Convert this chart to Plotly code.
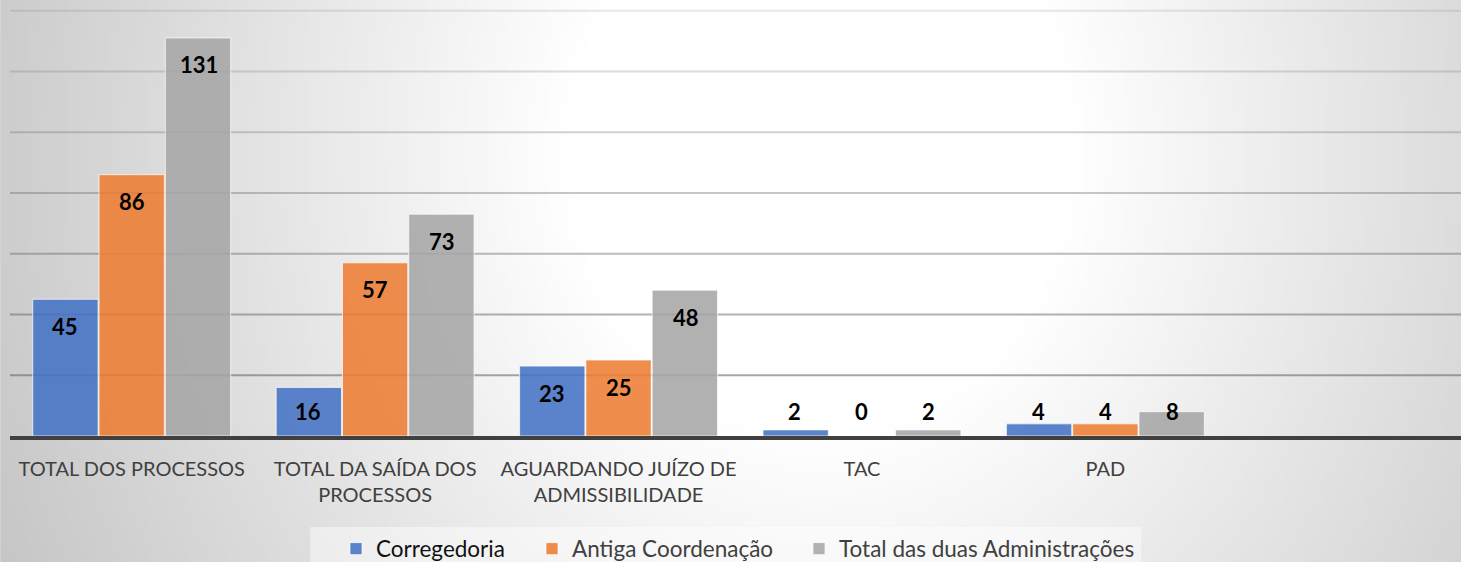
import base64, struct, zlib, math
import plotly.graph_objects as go

# ---------------- data ----------------
categories = ["TOTAL DOS PROCESSOS", "TOTAL DA SAÍDA DOS<br>PROCESSOS",
              "AGUARDANDO JUÍZO DE<br>ADMISSIBILIDADE", "TAC", "PAD"]
corregedoria = [45, 16, 23, 2, 4]
antiga_coordenacao = [86, 57, 25, 0, 4]
total_duas = [131, 73, 48, 2, 8]
series_names = ["Corregedoria", "Antiga Coordenação", "Total das duas Administrações"]
grid_values = [20, 40, 60, 80, 100, 120, 140]

# ---------------- geometry / style ----------------
W, H = 1461, 562
ML, MT, MB = 9.5, 0, 126
PW, PH = W - ML, H - MT - MB
Y_MAX = 143.5
PX_PER_UNIT = PH / Y_MAX
colors = ["rgba(68,114,196,0.87)", "rgba(237,125,49,0.87)", "rgba(165,165,165,0.87)"]
FONT = "Lato"

# background radial gradient as a small grayscale PNG
def make_bg_png(w=292, h=112):
    rows = []
    for j in range(h):
        py = (j + 0.5) * H / h
        row = bytearray([0])
        for i in range(w):
            px = (i + 0.5) * W / w
            dx = px - 820
            dy = (py - 150) * 0.9
            d = math.hypot(dx, dy)
            v = 255 - 0.088 * max(0.0, d - 250)
            v = max(195, min(255, v))
            row.append(int(round(v)))
        rows.append(bytes(row))
    raw = b"".join(rows)
    def chunk(t, data):
        c = struct.pack(">I", len(data)) + t + data
        return c + struct.pack(">I", zlib.crc32(t + data) & 0xffffffff)
    png = b"\x89PNG\r\n\x1a\n"
    png += chunk(b"IHDR", struct.pack(">IIBBBBB", w, h, 8, 0, 0, 0, 0))
    png += chunk(b"IDAT", zlib.compress(raw, 9))
    png += chunk(b"IEND", b"")
    return "data:image/png;base64," + base64.b64encode(png).decode()

fig = go.Figure()
all_series = [corregedoria, antiga_coordenacao, total_duas]
legend_ids = ["legend", "legend2", "legend3"]
for k, (name, vals) in enumerate(zip(series_names, all_series)):
    fig.add_trace(go.Bar(
        x=categories, y=vals, name=name,
        marker=dict(color=colors[k], line=dict(color="rgba(255,255,255,0.7)", width=1)),
        legend=legend_ids[k], hoverinfo="x+y+name",
    ))

# data labels (Excel-like "inside end", clamped near axis for short bars)
annotations = []
BAR_STEP_PX = 67
for k, vals in enumerate(all_series):
    for cat, v in zip(categories, vals):
        inside = v * PX_PER_UNIT - 27 > 25
        annotations.append(dict(
            x=cat, y=v if inside else 0, xref="x", yref="y",
            xshift=(k - 1) * BAR_STEP_PX, yshift=-27 if inside else 25,
            text=f"<b>{v}</b>", showarrow=False, yanchor="middle", xanchor="center",
            font=dict(family=FONT, size=22, color="#000000"),
        ))

# gridlines with a darkening gradient downward
shapes = []
n = len(grid_values)
for idx, gv in enumerate(grid_values):
    a = 0.55 - 0.4 * idx / (n - 1)
    shapes.append(dict(type="line", xref="paper", yref="y", x0=0, x1=1, y0=gv, y1=gv,
                       line=dict(color=f"rgba(95,95,95,{a:.2f})", width=2), layer="below"))
# legend box
shapes.append(dict(type="rect", xref="paper", yref="paper",
                   x0=(310 - ML) / PW, x1=(1141 - ML) / PW,
                   y0=(PH - 562) / PH, y1=(PH - 527) / PH,
                   fillcolor="rgba(255,255,255,0.45)", line=dict(width=0), layer="below"))

def leg(xpx, color):
    return dict(orientation="h", xref="container", yref="container",
                x=xpx / W, xanchor="left",
                y=1 - 549 / H, yanchor="middle", bgcolor="rgba(0,0,0,0)",
                font=dict(family=FONT, size=22.5, color=color), itemclick=False)

fig.update_layout(
    width=W, height=H,
    margin=dict(l=ML, r=0, t=MT, b=MB, pad=0, autoexpand=False),
    paper_bgcolor="#dcdcdc", plot_bgcolor="rgba(0,0,0,0)",
    barmode="group", bargap=0.183, bargroupgap=0.015,
    showlegend=True,
    legend=leg(336, "#111111"),
    legend2=leg(532, "#404040"),
    legend3=leg(799, "#404040"),
    xaxis=dict(range=[-0.5, 5.461], showgrid=False,
               showline=True, linecolor="#404040", linewidth=4, ticks="",
               tickfont=dict(family=FONT, size=20, color="#404040"),
               ticklabelstandoff=12, fixedrange=True),
    yaxis=dict(range=[0, Y_MAX], showgrid=False, showticklabels=False, zeroline=False,
               fixedrange=True),
    annotations=annotations, shapes=shapes,
    images=[dict(source=make_bg_png(), xref="paper", yref="paper",
                 x=-ML / PW, y=1 + MT / PH, sizex=W / PW, sizey=H / PH,
                 xanchor="left", yanchor="top", sizing="stretch", layer="below")],
)

fig.write_html("out.html", config={"displayModeBar": False},
               post_script="document.body.style.margin='0';document.body.style.padding='0';")
